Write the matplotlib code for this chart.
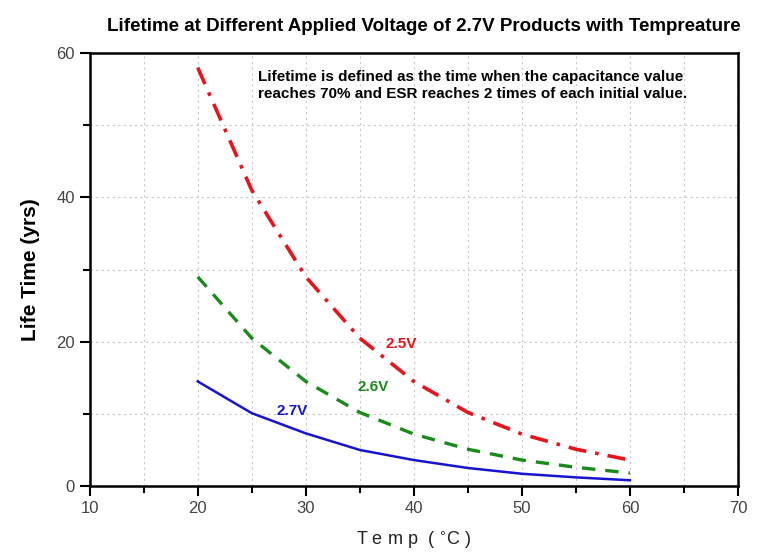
import matplotlib.pyplot as plt
from matplotlib.ticker import MultipleLocator

plt.rcParams['font.family'] = ['Liberation Sans', 'DejaVu Sans']

temp = [20, 25, 30, 35, 40, 45, 50, 55, 60]
life_25 = [58.0, 41.0, 29.0, 20.5, 14.5, 10.2, 7.2, 5.1, 3.6]
life_26 = [29.0, 20.5, 14.5, 10.2, 7.2, 5.1, 3.6, 2.6, 1.8]
life_27 = [14.5, 10.1, 7.3, 5.0, 3.6, 2.5, 1.7, 1.2, 0.8]

fig = plt.figure(figsize=(7.6, 5.54), dpi=100)
ax = fig.add_axes([0.118, 0.1227, 0.853, 0.7813])

ax.plot(temp, life_25, color='#e8141c', lw=2.6, linestyle=(0, (5, 2.5, 1, 2.5)))
ax.plot(temp, life_26, color='#1a8a1a', lw=2.4, linestyle=(0, (4, 3)))
ax.plot(temp, life_27, color='#1515d0', lw=1.8)

ax.text(37.4, 19.2, '2.5V', color='#e8141c', fontsize=11, fontweight='bold')
ax.text(34.8, 13.2, '2.6V', color='#1a8a1a', fontsize=11, fontweight='bold')
ax.text(27.3, 9.8, '2.7V', color='#1515d0', fontsize=11, fontweight='bold')

ax.text(25.6, 57.6, 'Lifetime is defined as the time when the capacitance value\n'
        'reaches 70% and ESR reaches 2 times of each initial value.',
        fontsize=11, fontweight='bold', va='top', linespacing=1.25)

ax.set_xlim(10, 70)
ax.set_ylim(0, 60)
ax.xaxis.set_major_locator(MultipleLocator(10))
ax.xaxis.set_minor_locator(MultipleLocator(5))
ax.yaxis.set_major_locator(MultipleLocator(20))
ax.yaxis.set_minor_locator(MultipleLocator(10))
ax.grid(which='both', color='#c8c8c8', linestyle=(0, (2, 3)), lw=0.8)
ax.tick_params(which='major', direction='out', length=7, width=1.5, labelsize=12, labelcolor='#444444')
ax.tick_params(which='minor', direction='out', length=5, width=1.5)
for s in ax.spines.values():
    s.set_linewidth(1.8)

ax.set_xlabel('T e m p  ( $^{\\circ}$C )', fontsize=13, labelpad=10, color='#222222')
ax.set_ylabel('Life Time (yrs)', fontsize=15, fontweight='bold', labelpad=12)
ax.set_title('Lifetime at Different Applied Voltage of 2.7V Products with Tempreature',
             fontsize=13.5, fontweight='bold', pad=16, x=0.515)

fig.savefig('out.png', dpi=100)
